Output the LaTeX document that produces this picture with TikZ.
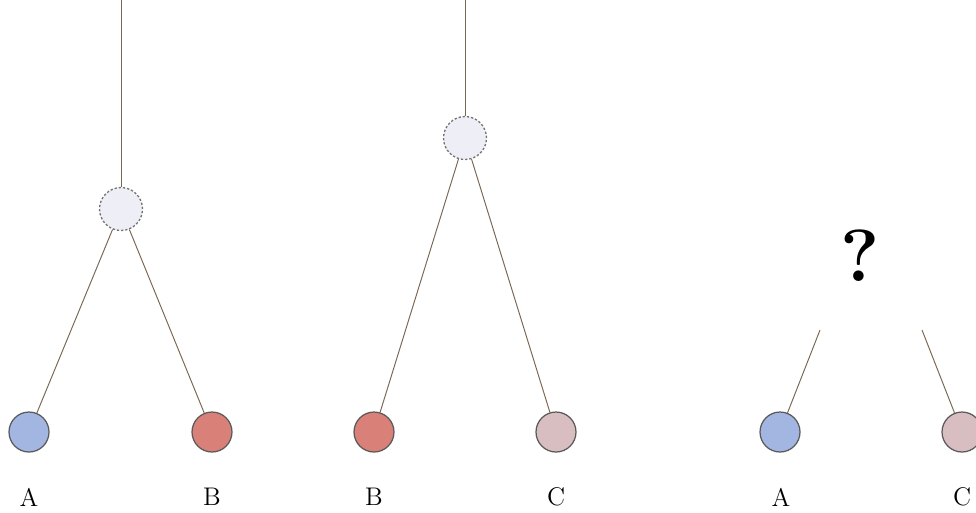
\documentclass[tikz,border=0pt]{standalone}
\begin{document}
\begin{tikzpicture}[x=0.02cm,y=-0.02cm,
  leaf/.style={circle,draw=black!65,line width=0.7pt,minimum size=0.8cm,inner sep=0pt},
  hidden/.style={circle,draw=black!55,dash pattern=on 1.3pt off 1.1pt,line width=0.75pt,fill=cH,minimum size=0.86cm,inner sep=0pt},
  edge/.style={draw=brown!40!black!75,line width=0.55pt},
  lab/.style={font=\fontsize{14.5}{16}\selectfont}]
\definecolor{cA}{RGB}{163,182,226}
\definecolor{cB}{RGB}{217,128,120}
\definecolor{cC}{RGB}{216,190,192}
\definecolor{cH}{RGB}{238,238,246}
\useasboundingbox (0,0) rectangle (976,512);
% tree 1
\coordinate (t1) at (121,0);
\node[hidden] (r1) at (121,209) {};
\node[leaf,fill=cA] (a1) at (29,432) {};
\node[leaf,fill=cB] (b1) at (212,432) {};
\draw[edge] (t1) -- (r1);
\draw[edge] (r1) -- (a1);
\draw[edge] (r1) -- (b1);
\node[lab] (la1) at (29,497) {A};
\node[lab] (lb1) at (212,497) {B};
% tree 2
\coordinate (t2) at (465,0);
\node[hidden] (r2) at (465,138) {};
\node[leaf,fill=cB] (b2) at (374,432) {};
\node[leaf,fill=cC] (c2) at (556,432) {};
\draw[edge] (t2) -- (r2);
\draw[edge] (r2) -- (b2);
\draw[edge] (r2) -- (c2);
\node[lab] (lb2) at (374,497) {B};
\node[lab] (lc2) at (556,497) {C};
% tree 3
\node[font=\fontsize{42}{44}\selectfont\bfseries] (q) at (860,256) {?};
\coordinate (e1) at (820,330);
\coordinate (e2) at (922,330);
\node[leaf,fill=cA] (a3) at (780,432) {};
\node[leaf,fill=cC] (c3) at (962,432) {};
\draw[edge] (e1) -- (a3);
\draw[edge] (e2) -- (c3);
\node[lab] (la3) at (781,497) {A};
\node[lab] (lc3) at (962,497) {C};
\end{tikzpicture}
\end{document}
